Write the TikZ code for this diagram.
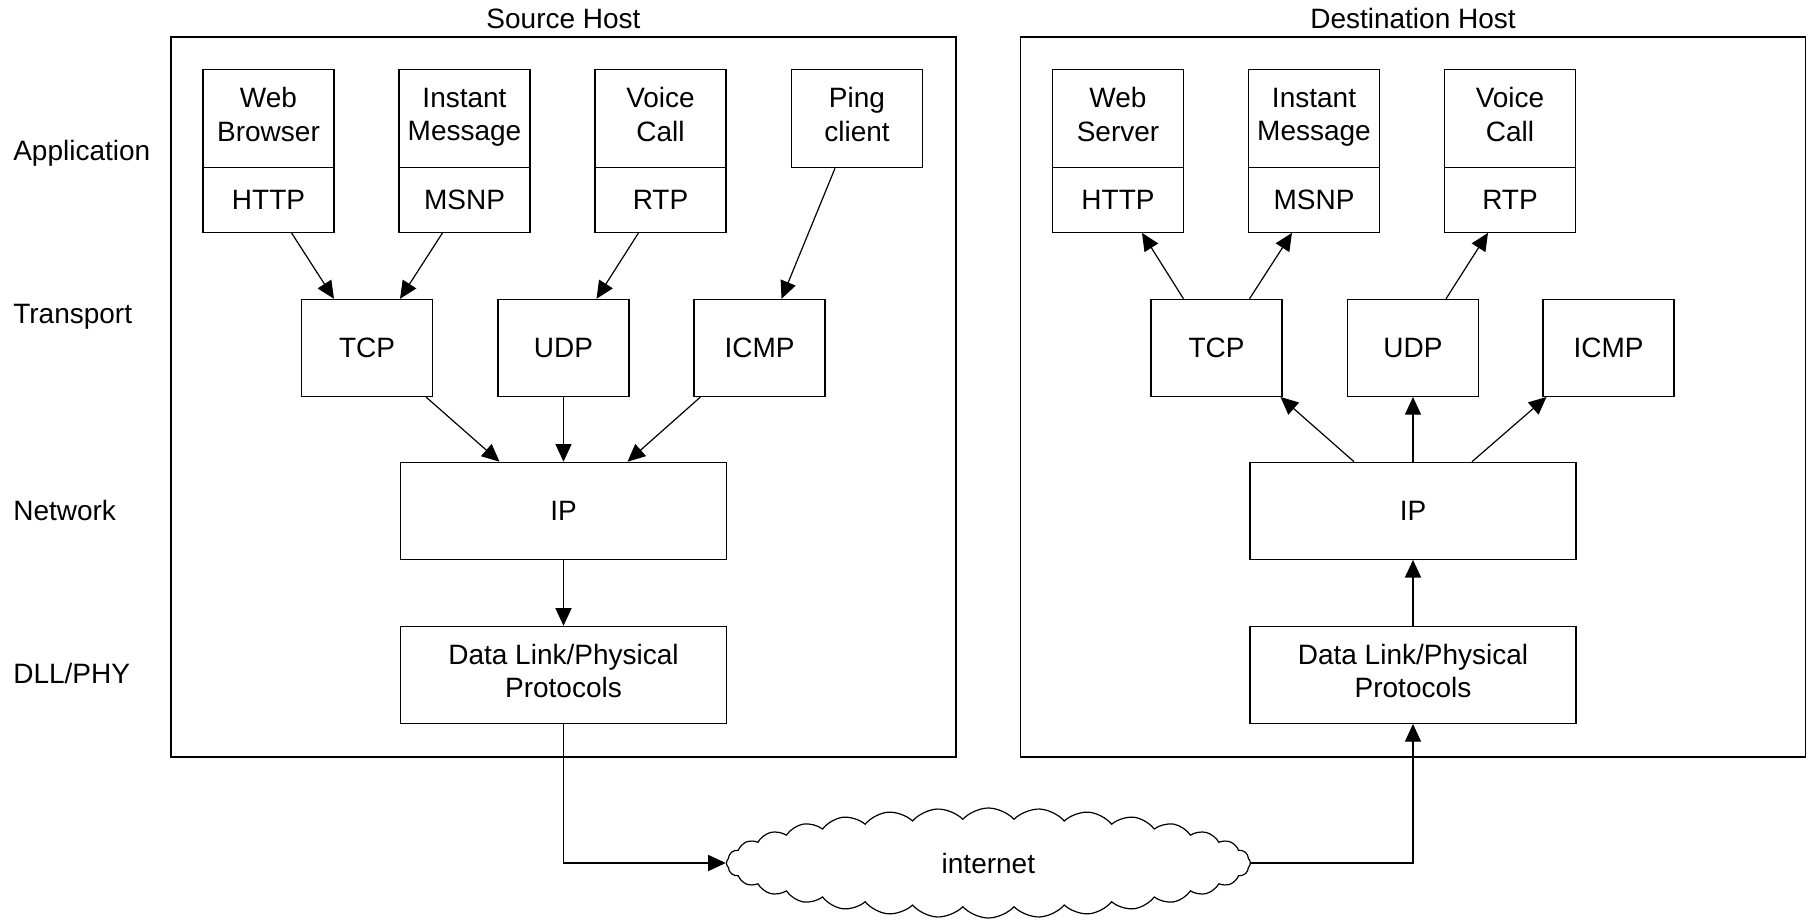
\documentclass[tikz,border=0pt]{standalone}
\usepackage{fontspec}
\setmainfont{Liberation Sans}
\usetikzlibrary{arrows.meta,shapes.symbols}
\newcommand{\topstrut}{\rule{0pt}{14pt}}
\newcommand{\apstrut}{\rule{0pt}{17.4pt}}
\newcommand{\dlstrut}{\rule{0pt}{16.3pt}}
\newcommand{\botstrut}{\rule[-4pt]{0pt}{4pt}}
\begin{document}
\begin{tikzpicture}[x=0.5pt,y=-0.5pt, line width=0.6pt,
  every node/.style={font=\fontsize{14pt}{16.8pt}\selectfont},
  frame/.style={draw, minimum width=392.5pt, minimum height=360pt, inner sep=0},
  apptop/.style={draw, align=center, minimum width=65.5pt, minimum height=49.2pt, inner sep=0,
    execute at begin node=\apstrut, execute at end node=\botstrut},
  appbot/.style={draw, minimum width=65.5pt, minimum height=32.3pt, inner sep=0},
  tbox/.style={draw, minimum width=65.5pt, minimum height=48.5pt, inner sep=0},
  wbox/.style={draw, align=center, minimum width=163pt, minimum height=48.5pt, inner sep=0,
    execute at begin node=\topstrut, execute at end node=\botstrut},
  dlbox/.style={draw, align=center, minimum width=163pt, minimum height=48.5pt, inner sep=0,
    execute at begin node=\dlstrut, execute at end node=\botstrut},
  arr/.style={-{Triangle[length=8.8pt,width=8pt]}},
  lab/.style={anchor=base west, inner sep=0},
  title/.style={anchor=base, inner sep=0},
  net/.style={draw, cloud, cloud ignores aspect, cloud puffs=32, cloud puff arc=95, minimum width=262pt, minimum height=55pt, inner sep=0}]
\useasboundingbox (0,0) rectangle (1812,921);

% layer labels
\node[lab] (lapp) at (12.7,160) {Application};
\node[lab] (ltr) at (12.7,323) {Transport};
\node[lab] (lnet) at (12.7,520) {Network};
\node[lab] (ldll) at (12.7,683) {DLL/PHY};

% source host
\node[frame] (sframe) at (563.5,397) {};
\node[title] (stitle) at (563.5,28.5) {Source Host};
\node[apptop] (sweb) at (268.5,118.5) {Web\\Browser};
\node[appbot] (shttp) at (268.5,200) {HTTP};
\node[apptop] (sim) at (464.5,118.5) {Instant\\Message};
\node[appbot] (smsnp) at (464.5,200) {MSNP};
\node[apptop] (svc) at (660.5,118.5) {Voice\\Call};
\node[appbot] (srtp) at (660.5,200) {RTP};
\node[apptop] (sping) at (857,118.5) {Ping\\client};
\node[tbox] (stcp) at (367,347.9) {TCP};
\node[tbox] (sudp) at (563.5,347.9) {UDP};
\node[tbox] (sicmp) at (759.5,347.9) {ICMP};
\node[wbox] (sip) at (563.5,510.8) {IP};
\node[dlbox] (sdll) at (563.5,674.9) {Data Link/Physical\\Protocols};

% destination host
\node[frame] (dframe) at (1413,397) {};
\node[title] (dtitle) at (1413,28.5) {Destination Host};
\node[apptop] (dweb) at (1118,118.5) {Web\\Server};
\node[appbot] (dhttp) at (1118,200) {HTTP};
\node[apptop] (dim) at (1314,118.5) {Instant\\Message};
\node[appbot] (dmsnp) at (1314,200) {MSNP};
\node[apptop] (dvc) at (1510,118.5) {Voice\\Call};
\node[appbot] (drtp) at (1510,200) {RTP};
\node[tbox] (dtcp) at (1216.5,347.9) {TCP};
\node[tbox] (dudp) at (1413,347.9) {UDP};
\node[tbox] (dicmp) at (1608.5,347.9) {ICMP};
\node[wbox] (dip) at (1413,510.8) {IP};
\node[dlbox] (ddll) at (1413,674.9) {Data Link/Physical\\Protocols};

% internet cloud
\node[net] (cloud) at (988.4,863) {internet};

% source arrows
\draw[arr] ([xshift=11.5pt]shttp.south) -- ([xshift=-16.5pt]stcp.north);
\draw[arr] ([xshift=-11pt]smsnp.south) -- ([xshift=16.5pt]stcp.north);
\draw[arr] ([xshift=-11pt]srtp.south) -- ([xshift=16.5pt]sudp.north);
\draw[arr] ([xshift=-11pt]sping.south) -- ([xshift=11pt]sicmp.north);
\draw[arr] ([xshift=29.5pt]stcp.south) -- ([xshift=-32pt]sip.north);
\draw[arr] (sudp.south) -- (sip.north);
\draw[arr] ([xshift=-29.5pt]sicmp.south) -- ([xshift=32pt]sip.north);
\draw[arr] (sip.south) -- (sdll.north);
\draw[arr] (sdll.south) |- (cloud.west);

% destination arrows
\draw[arr] ([xshift=-16.5pt]dtcp.north) -- ([xshift=12pt]dhttp.south);
\draw[arr] ([xshift=16.5pt]dtcp.north) -- ([xshift=-11pt]dmsnp.south);
\draw[arr] ([xshift=16.5pt]dudp.north) -- ([xshift=-11pt]drtp.south);
\draw[arr] ([xshift=-29.5pt]dip.north) -- ([xshift=32pt]dtcp.south);
\draw[arr] (dip.north) -- (dudp.south);
\draw[arr] ([xshift=29.5pt]dip.north) -- ([xshift=-31pt]dicmp.south);
\draw[arr] (ddll.north) -- (dip.south);
\draw[arr] (cloud.east) -| (ddll.south);
\end{tikzpicture}
\end{document}
